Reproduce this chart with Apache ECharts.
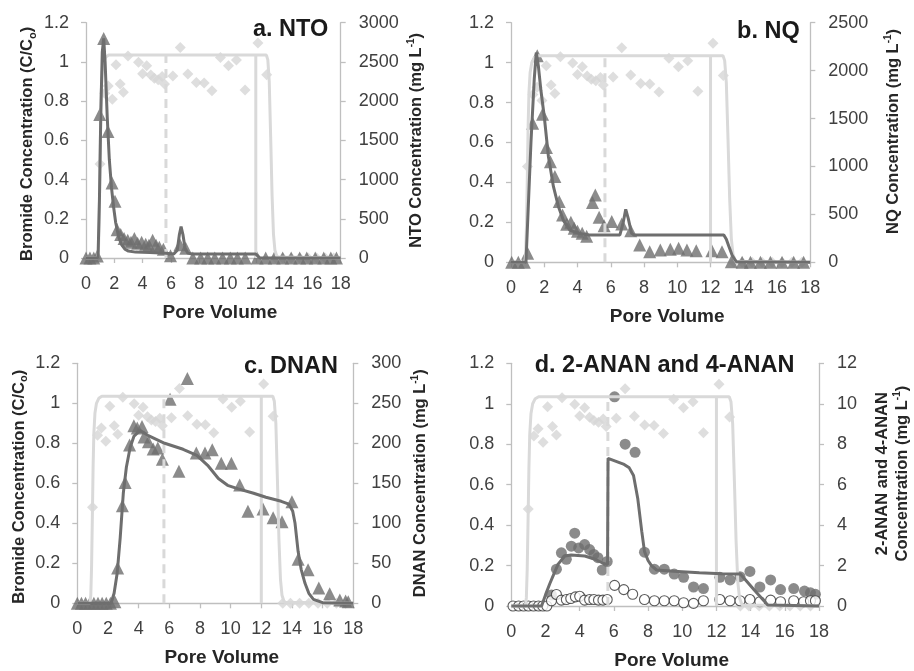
<!DOCTYPE html>
<html>
<head>
<meta charset="utf-8">
<script src="https://cdn.jsdelivr.net/npm/echarts@6/dist/echarts.min.js"></script>
<style>
  html, body { margin: 0; padding: 0; background: #ffffff; }
  #chart { width: 914px; height: 671px; }
</style>
</head>
<body>
<div id="chart"></div>
<script>
// ---- Bromide tracer (shared by all four panels), C/Co ----
const brPV = [0.99, 1.32, 1.57, 1.86, 2.12, 2.41, 2.64, 2.97, 3.71, 4.0, 4.29, 4.58, 4.83, 5.1, 5.38, 5.55, 6.14, 6.66, 7.2, 7.8, 8.35, 8.9, 9.5, 10.07, 10.63, 11.24, 12.15, 12.77, 13.4, 13.9, 14.5, 15.1, 15.7, 16.3, 16.9, 17.5];
const brC  = [0.48, 0.84, 0.877, 0.81, 0.985, 0.888, 0.845, 1.03, 0.998, 0.94, 0.98, 0.933, 0.917, 0.909, 0.925, 0.888, 0.928, 1.074, 0.938, 0.895, 0.893, 0.853, 1.022, 0.98, 1.01, 0.857, 1.097, 0.935, 0, 0, 0, 0, 0, 0, 0, 0];
const brModelPV = [0, 0.82, 0.88, 0.93, 0.98, 1.03, 1.08, 1.15, 1.25, 1.4, 1.6, 12.75, 12.85, 12.95, 13.05, 13.15, 13.25, 13.35, 13.5, 18];
const brModelC  = [0, 0, 0.04, 0.18, 0.42, 0.68, 0.85, 0.95, 1.0, 1.025, 1.035, 1.035, 1.01, 0.9, 0.62, 0.32, 0.12, 0.04, 0.005, 0];

// Flow-interruption markers (pore volume) and their height on the C/Co axis
const dashedMarkPV = 5.65;
const solidMarkPV = 12.0;
const markTop = 1.035;

// ---- a. NTO (mg/L) ----
const ntoPV   = [0, 0.28, 0.55, 0.8, 0.97, 1.25, 1.55, 1.84, 2.05, 2.2, 2.45, 2.69, 2.95, 3.18, 3.42, 3.65, 3.93, 4.22, 4.45, 4.71, 4.95, 5.18, 5.47, 5.97, 6.64, 7.05, 7.55, 8.1, 8.6, 9.1, 9.65, 10.2, 10.7, 11.25, 12.1, 12.7, 13.3, 13.9, 14.5, 15.1, 15.6, 16.2, 16.8, 17.3, 17.7];
const ntoConc = [0, 0, 0, 25, 1830, 2800, 1612, 955, 725, 360, 300, 250, 225, 200, 250, 188, 200, 175, 162, 225, 162, 138, 112, 30, 170, 125, 0, 0, 0, 0, 0, 0, 0, 0, 0, 0, 0, 0, 0, 0, 0, 0, 0, 0, 0];
const ntoModelPV   = [0, 0.85, 0.95, 1.05, 1.15, 1.25, 1.35, 1.5, 1.65, 1.8, 1.95, 2.1, 2.3, 2.5, 2.75, 3.0, 3.5, 4.5, 5.65, 6.2, 6.45, 6.6, 6.72, 6.85, 7.0, 7.2, 7.5, 12.0, 12.3, 18];
const ntoModelConc = [0, 0, 750, 1875, 2625, 2800, 2500, 1800, 1250, 900, 650, 450, 275, 175, 112, 88, 75, 70, 62, 50, 100, 300, 400, 300, 125, 62, 50, 50, 0, 0];

// ---- b. NQ (mg/L) ----
const nqPV   = [0.04, 0.44, 0.8, 1.0, 1.3, 1.58, 1.9, 2.13, 2.37, 2.64, 2.9, 3.1, 3.35, 3.6, 3.8, 4.0, 4.28, 4.55, 4.9, 5.07, 5.3, 5.6, 6.06, 6.66, 7.2, 7.74, 8.34, 8.98, 9.58, 10.08, 10.58, 11.14, 12.08, 12.69, 13.25, 13.9, 14.4, 15.0, 15.6, 16.3, 17.0, 17.6];
const nqConc = [0, 0, 0, 94, 1450, 2156, 1546, 1198, 1050, 896, 635, 494, 396, 417, 354, 323, 302, 271, 625, 702, 469, 381, 427, 400, 329, 181, 110, 129, 135, 146, 129, 121, 121, 110, 6, 0, 0, 0, 0, 0, 0, 0];
const nqModelPV   = [0, 0.9, 1.0, 1.2, 1.4, 1.52, 1.65, 1.8, 2.0, 2.25, 2.55, 2.85, 3.15, 3.55, 4.1, 4.7, 6.55, 6.75, 6.9, 7.05, 7.25, 7.4, 12.8, 12.95, 13.1, 13.3, 13.55, 18];
const nqModelConc = [0, 0, 417, 1250, 1917, 2188, 2042, 1792, 1521, 1104, 792, 583, 438, 333, 302, 285, 285, 417, 552, 458, 302, 285, 285, 240, 167, 73, 6, 0];

// ---- c. DNAN (mg/L) ----
const dnanPV   = [0, 0.27, 0.54, 0.81, 1.08, 1.35, 1.62, 1.89, 2.16, 2.45, 2.63, 2.94, 3.12, 3.41, 3.69, 3.91, 4.22, 4.35, 4.64, 4.95, 5.25, 5.55, 6.05, 6.63, 7.18, 7.76, 8.33, 8.8, 9.39, 10.05, 10.59, 11.13, 12.11, 12.77, 13.35, 14.0, 14.4, 15.05, 15.75, 16.46, 17.12, 17.5, 17.67];
const dnanConc = [0, 0, 0, 0, 0, 0, 0, 0, 0, 2, 44, 122, 151, 198, 222, 219, 221, 208, 202, 193, 194, 180, 255, 165, 281, 188, 188, 192, 175, 175, 148, 115, 118, 107, 102, 127, 55, 42, 19, 12, 4, 3, 2];
const dnanModelPV   = [0, 2.2, 2.4, 2.6, 2.8, 3.0, 3.2, 3.45, 3.7, 4.1, 4.6, 5.7, 6.9, 7.8, 8.5, 9.2, 9.8, 10.5, 11.5, 12.3, 13.3, 13.8, 14.05, 14.2, 14.4, 14.6, 14.85, 15.1, 15.4, 16.0, 18];
const dnanModelConc = [0, 0, 12.5, 37.5, 82.5, 137.5, 170, 195, 209, 216, 210, 200, 192.5, 185, 172.5, 156, 147.5, 143, 137.5, 132.5, 127.5, 124, 115, 100, 65, 42.5, 25, 12.5, 5, 0.8, 0];

// ---- d. 2-ANAN (filled) and 4-ANAN (open), mg/L ----
const anan2PV   = [2.35, 2.64, 2.93, 3.22, 3.51, 3.71, 3.94, 4.29, 4.58, 4.83, 5.07, 5.32, 5.61, 6.04, 6.66, 7.24, 7.79, 8.37, 8.95, 9.53, 10.08, 10.66, 11.24, 12.2, 12.8, 13.38, 13.96, 14.54, 15.17, 15.75, 16.52, 17.15, 17.5, 17.79];
const anan2Conc = [0.55, 1.82, 2.63, 2.31, 2.96, 3.6, 2.87, 3.04, 2.79, 2.55, 2.39, 1.78, 2.2, 10.34, 8.0, 7.6, 2.66, 1.82, 1.82, 1.58, 1.42, 0.94, 0.86, 1.42, 1.29, 1.45, 1.71, 0.94, 1.29, 0.81, 0.86, 0.74, 0.65, 0.58];
const anan4PV   = [0.1, 0.43, 0.72, 1.0, 1.3, 1.59, 1.84, 2.08, 2.35, 2.64, 2.93, 3.22, 3.48, 3.75, 4.0, 4.29, 4.58, 4.83, 5.1, 5.36, 5.61, 6.04, 6.58, 7.1, 7.79, 8.37, 8.95, 9.53, 10.08, 10.66, 11.24, 12.2, 12.8, 13.38, 13.96, 14.54, 15.17, 15.75, 16.52, 17.1, 17.5, 17.79];
const anan4Conc = [0, 0, 0, 0, 0, 0, 0, 0, 0.26, 0.57, 0.29, 0.32, 0.37, 0.45, 0.48, 0.29, 0.32, 0.32, 0.29, 0.29, 0.32, 1.02, 0.81, 0.58, 0.32, 0.26, 0.26, 0.26, 0.16, 0.13, 0.26, 0.32, 0.26, 0.26, 0.32, 0.21, 0.29, 0.21, 0.26, 0.21, 0.26, 0.26];
const anan2ModelPV   = [0, 1.77, 2.0, 2.25, 2.5, 2.74, 3.13, 3.5, 4.3, 4.9, 5.4, 5.63, 5.66, 6.6, 6.9, 7.15, 7.4, 7.63, 7.79, 8.0, 8.2, 8.5, 9.5, 11.0, 12.3, 13.4, 14.2, 15.0, 18];
const anan2ModelConc = [0, 0, 0.55, 1.1, 1.6, 2.07, 2.47, 2.52, 2.47, 2.31, 2.1, 2.05, 7.3, 7.0, 6.83, 6.45, 5.3, 3.7, 2.7, 2.25, 2.0, 1.78, 1.72, 1.65, 1.6, 1.58, 0.8, 0.05, 0];

// ---- Axis ticks ----
const pvTicks = { min: 0, max: 18, interval: 2 };
const brTicks = { min: 0, max: 1.2, interval: 0.2 };
const rightTicks = [
  { min: 0, max: 3000, interval: 500 },
  { min: 0, max: 2500, interval: 500 },
  { min: 0, max: 300, interval: 50 },
  { min: 0, max: 12, interval: 2 }
];

// ---- Styling ----
const FONT = "'Liberation Sans', Arial, sans-serif";
const LIGHT = '#d9d9d9';
const DARK = '#6e6e6e';
const AXIS = '#bfbfbf';
const TICK_TXT = '#404040';
const NAME_TXT = '#262626';

const grids = [
  { left: 86,    top: 22.7,  width: 254.7, height: 235.3 },
  { left: 511,   top: 22.7,  width: 299.3, height: 239.6 },
  { left: 77.3,  top: 363.3, width: 276,   height: 240   },
  { left: 511.3, top: 363.3, width: 309,   height: 247.7 }
];

function richFor(size) {
  return {
    sub: { fontFamily: FONT, fontWeight: 'bold', fontSize: Math.round(size * 0.68), color: NAME_TXT, verticalAlign: 'bottom', lineHeight: size + 4 },
    sup: { fontFamily: FONT, fontWeight: 'bold', fontSize: Math.round(size * 0.62), color: NAME_TXT, verticalAlign: 'top', lineHeight: size + 4 }
  };
}
function nameStyle(size, extra) {
  return Object.assign({ fontFamily: FONT, fontSize: size, fontWeight: 'bold', color: NAME_TXT, lineHeight: size + 4, rich: richFor(size) }, extra || {});
}

const leftNames  = ['Bromide Concentration (C/C{sub|o})', '', 'Bromide Concentration (C/C{sub|o})', ''];
const rightNames = [
  'NTO Concentration (mg L{sup|-1})',
  'NQ Concentration (mg L{sup|-1})',
  'DNAN Concentration (mg L{sup|-1})',
  '2-ANAN and 4-ANAN\nConcentration (mg L{sup|-1})'
];
const rightGaps = [66, 73, 57, 53];
const rightPads = [[0, 0, 0, 0], [0, 0, 0, 22], [0, 0, 0, 0], [0, 0, 0, 22]];

const xAxes = grids.map((g, i) => Object.assign({
  type: 'value', gridIndex: i,
  name: 'Pore Volume', nameLocation: 'middle', nameGap: 45,
  nameTextStyle: { fontFamily: FONT, fontSize: 19, fontWeight: 'bold', color: NAME_TXT, padding: [0, 0, 0, 13] },
  axisLine: { show: true, onZero: false, lineStyle: { color: AXIS, width: 1.3 } },
  axisTick: { show: true, inside: false, length: 5, lineStyle: { color: AXIS, width: 1.3 } },
  axisLabel: { fontFamily: FONT, fontSize: 18, color: TICK_TXT, margin: 17 },
  splitLine: { show: false }
}, pvTicks));

const yAxes = [];
grids.forEach((g, i) => {
  yAxes.push(Object.assign({
    type: 'value', gridIndex: i, position: 'left',
    name: leftNames[i], nameLocation: 'middle', nameRotate: 90, nameGap: 48,
    nameTextStyle: nameStyle(16.5, { padding: [0, 7, 0, 0] }),
    axisLine: { show: true, lineStyle: { color: AXIS, width: 1.3 } },
    axisTick: { show: true, inside: false, length: 5, lineStyle: { color: AXIS, width: 1.3 } },
    axisLabel: { fontFamily: FONT, fontSize: 18, color: TICK_TXT, margin: 17,
      formatter: v => String(Math.round(v * 10) / 10) },
    splitLine: { show: false }
  }, brTicks));
  yAxes.push(Object.assign({
    type: 'value', gridIndex: i, position: 'right',
    name: rightNames[i], nameLocation: 'middle', nameRotate: 90, nameGap: rightGaps[i],
    nameTextStyle: nameStyle(16.5, { padding: rightPads[i] }),
    axisLine: { show: true, lineStyle: { color: AXIS, width: 1.3 } },
    axisTick: { show: true, inside: false, length: 5, lineStyle: { color: AXIS, width: 1.3 } },
    axisLabel: { fontFamily: FONT, fontSize: 18, color: TICK_TXT, margin: 18,
      formatter: v => String(v) },
    splitLine: { show: false }
  }, rightTicks[i]));
});

function pairs(xs, ys) { return xs.map((x, k) => [x, ys[k]]); }

function lineSeries(i, yIdx, xs, ys, color, extra) {
  return Object.assign({
    type: 'line', xAxisIndex: i, yAxisIndex: yIdx, data: pairs(xs, ys),
    showSymbol: false, symbol: 'none', smooth: false, clip: false,
    lineStyle: { color: color, width: 3 }, silent: true, animation: false
  }, extra || {});
}
function scatterSeries(i, yIdx, xs, ys, symbol, size, itemStyle) {
  return {
    type: 'scatter', xAxisIndex: i, yAxisIndex: yIdx, data: pairs(xs, ys),
    symbol: symbol, symbolSize: size, itemStyle: itemStyle, clip: false,
    silent: true, animation: false
  };
}

const analytes = [
  { pts: [ntoPV, ntoConc],   model: [ntoModelPV, ntoModelConc] },
  { pts: [nqPV, nqConc],     model: [nqModelPV, nqModelConc] },
  { pts: [dnanPV, dnanConc], model: [dnanModelPV, dnanModelConc] },
  null
];

const series = [];
grids.forEach((g, i) => {
  const yL = 2 * i, yR = 2 * i + 1;
  // bromide breakthrough model
  series.push(lineSeries(i, yL, brModelPV, brModelC, LIGHT));
  // flow-interruption markers
  series.push(lineSeries(i, yL, [dashedMarkPV, dashedMarkPV], [0, markTop], LIGHT, { lineStyle: { color: LIGHT, width: 3, type: [9, 6] } }));
  series.push(lineSeries(i, yL, [solidMarkPV, solidMarkPV], [0, markTop], LIGHT));
  // bromide observations
  series.push(scatterSeries(i, yL, brPV, brC, 'diamond', 11, { color: '#d6d6d6' }));
  if (analytes[i]) {
    const a = analytes[i];
    series.push(lineSeries(i, yR, a.model[0], a.model[1], DARK));
    series.push(scatterSeries(i, yR, a.pts[0], a.pts[1], 'triangle', 13, { color: DARK }));
  } else {
    series.push(lineSeries(i, yR, anan2ModelPV, anan2ModelConc, DARK));
    series.push(scatterSeries(i, yR, anan2PV, anan2Conc, 'circle', 11, { color: DARK }));
    series.push(scatterSeries(i, yR, anan4PV, anan4Conc, 'circle', 10, { color: '#ffffff', borderColor: '#333333', borderWidth: 1.1 }));
  }
});

const titleFont = 'bold 23.5px ' + FONT;
const titles = [
  { type: 'text', x: 328.3, y: 30,    style: { text: 'a. NTO', font: titleFont, fill: '#1a1a1a', align: 'right', verticalAlign: 'middle' } },
  { type: 'text', x: 799.7, y: 32,    style: { text: 'b. NQ', font: titleFont, fill: '#1a1a1a', align: 'right', verticalAlign: 'middle' } },
  { type: 'text', x: 338,   y: 366.8, style: { text: 'c. DNAN', font: titleFont, fill: '#1a1a1a', align: 'right', verticalAlign: 'middle' } },
  { type: 'text', x: 664.6, y: 365.6, style: { text: 'd. 2-ANAN and 4-ANAN', font: titleFont, fill: '#1a1a1a', align: 'center', verticalAlign: 'middle' } }
];

const chart = echarts.init(document.getElementById('chart'), null, { renderer: 'canvas' });
chart.setOption({
  backgroundColor: '#ffffff',
  animation: false,
  grid: grids,
  xAxis: xAxes,
  yAxis: yAxes,
  series: series,
  graphic: titles
});
</script>
</body>
</html>
